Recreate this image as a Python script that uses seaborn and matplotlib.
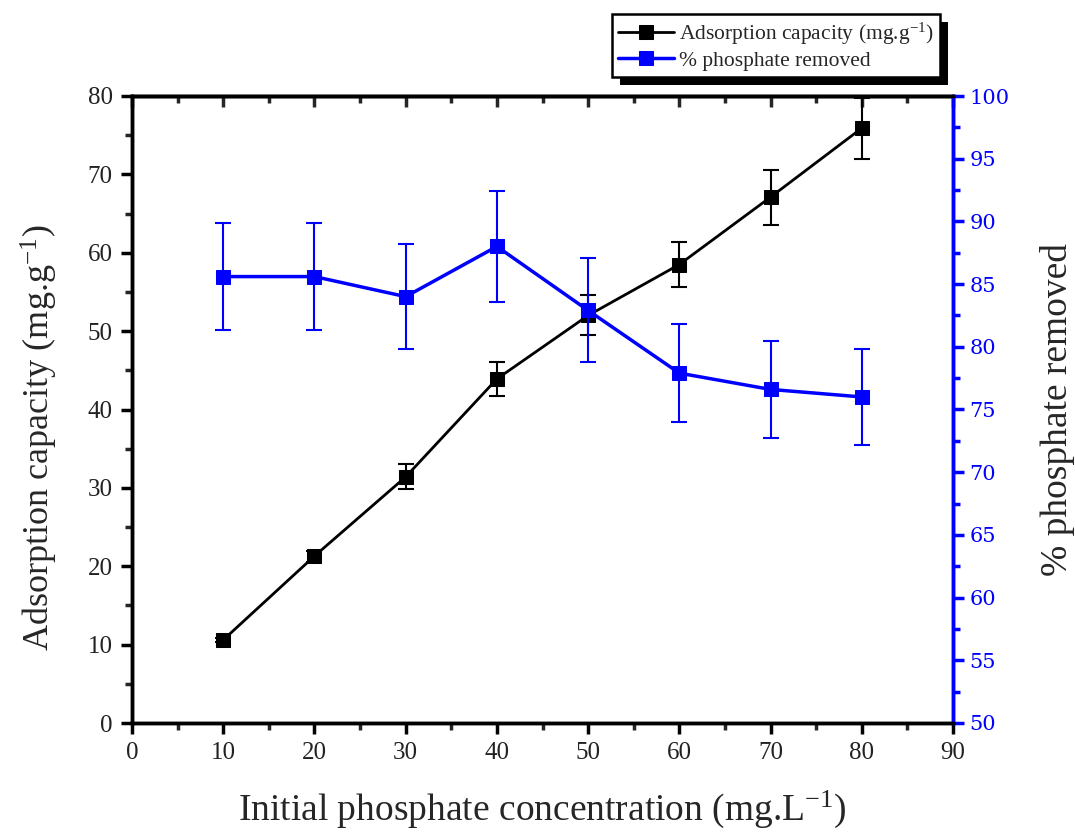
import numpy as np
import pandas as pd
import matplotlib
matplotlib.use("Agg")
import matplotlib.pyplot as plt
import seaborn as sb
from matplotlib.ticker import MultipleLocator
from matplotlib.patches import Rectangle

# data
conc = [10, 20, 30, 40, 50, 60, 70, 80]
capacity = [10.6, 21.3, 31.4, 43.9, 52.0, 58.5, 67.1, 75.9]
capacity_err = [0.3, 0.7, 1.6, 2.2, 2.55, 2.9, 3.5, 3.9]
removed = [85.6, 85.6, 84.0, 88.0, 82.9, 77.9, 76.6, 76.0]
removed_err = [4.3, 4.3, 4.2, 4.4, 4.15, 3.9, 3.9, 3.85]

df = pd.DataFrame({"conc": conc, "cap": capacity, "rem": removed})

sb.set_theme(style="ticks")
plt.rcParams['font.family'] = ['Liberation Serif', 'DejaVu Serif']
plt.rcParams['mathtext.default'] = 'regular'

fig = plt.figure(figsize=(10.75, 8.36), dpi=100)
ax1 = fig.add_axes([132/1075, 1-723/836, (953-132)/1075, (723-96)/836])
ax2 = ax1.twinx()

# black series (left axis)
ax1.errorbar(conc, capacity, yerr=capacity_err, fmt='none', ecolor='black',
             elinewidth=1.5, capsize=6, capthick=1.5, zorder=3)
sb.lineplot(data=df, x="conc", y="cap", ax=ax1, color='black', marker='s',
            markersize=10, markeredgecolor='black', linewidth=2, zorder=4,
            label='Adsorption capacity (mg.g$^{-1}$)', legend=False)

# blue series (right axis)
ax2.errorbar(conc, removed, yerr=removed_err, fmt='none', ecolor='blue',
             elinewidth=1.5, capsize=6, capthick=1.5, zorder=3)
sb.lineplot(data=df, x="conc", y="rem", ax=ax2, color='blue', marker='s',
            markersize=10, markeredgecolor='blue', linewidth=2.5, zorder=4,
            label='% phosphate removed', legend=False)

ax1.set_xlim(0, 90)
ax1.set_ylim(0, 80)
ax2.set_ylim(50, 100)
ax1.xaxis.set_major_locator(MultipleLocator(10))
ax1.xaxis.set_minor_locator(MultipleLocator(5))
ax1.yaxis.set_major_locator(MultipleLocator(10))
ax1.yaxis.set_minor_locator(MultipleLocator(5))
ax2.yaxis.set_major_locator(MultipleLocator(5))
ax2.yaxis.set_minor_locator(MultipleLocator(2.5))

for sp in list(ax1.spines.values()) + list(ax2.spines.values()):
    sp.set_linewidth(2.5)
    sp.set_color('black')
ax2.spines['right'].set_color('blue')

ax1.tick_params(axis='both', which='major', direction='out', length=8, width=2.5,
                labelsize=18, colors='black', labelcolor='#222222', pad=6)
ax1.tick_params(axis='both', which='minor', direction='out', length=5, width=2.5)
ax2.tick_params(axis='y', which='major', direction='out', length=8, width=2.5,
                colors='blue', labelsize=15, pad=4)
ax2.tick_params(axis='y', which='minor', direction='out', length=5, width=2.5,
                colors='blue')
for lab in ax2.get_yticklabels():
    lab.set_family(['DejaVu Serif'])

# inward ticks on the top edge
top = ax1.secondary_xaxis('top')
top.xaxis.set_major_locator(MultipleLocator(10))
top.xaxis.set_minor_locator(MultipleLocator(5))
top.tick_params(which='major', direction='in', length=8, width=2.5, labeltop=False)
top.tick_params(which='minor', direction='in', length=5, width=2.5)
top.spines['top'].set_linewidth(2.5)

ax1.set_xlabel('Initial phosphate concentration (mg.L$^{-1}$)', fontsize=27)
ax1.xaxis.set_label_coords(0.5, -0.105)
ax1.set_ylabel('Adsorption capacity (mg.g$^{-1}$)', fontsize=26)
ax1.yaxis.set_label_coords(-0.088, 0.455)
ax2.set_ylabel('% phosphate removed', fontsize=27, labelpad=22, rotation=90)

h1, l1 = ax1.get_legend_handles_labels()
h2, l2 = ax2.get_legend_handles_labels()
leg = fig.legend(h1 + h2, l1 + l2, loc='upper left',
                 bbox_to_anchor=(612/1075, 1-14/836), borderaxespad=0,
                 fancybox=False, edgecolor='black', framealpha=1, fontsize=15.5,
                 handlelength=2.6, borderpad=0.3, labelspacing=0.2,
                 handletextpad=0.2)
leg.get_frame().set_linewidth(1.8)
leg.set_zorder(10)

# drop shadow behind the legend box
fig.canvas.draw()
bb = leg.get_window_extent()
shadow = Rectangle((bb.x0 + 8, bb.y0 - 8), bb.width, bb.height,
                   transform=None, facecolor='black', edgecolor='none', zorder=9)
fig.patches.append(shadow)

plt.savefig('out.png', dpi=100)
